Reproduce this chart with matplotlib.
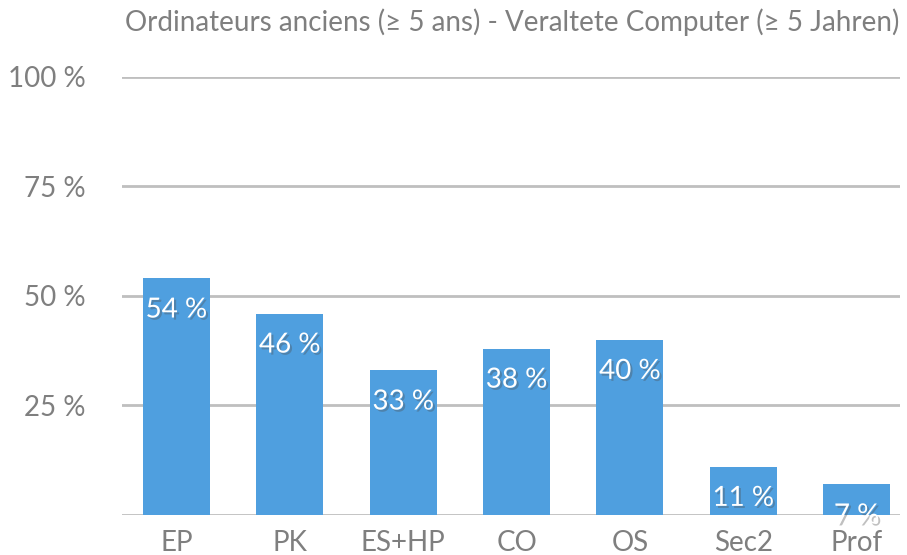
import matplotlib.pyplot as plt
import matplotlib.patheffects as pe

categories = ['EP', 'PK', 'ES+HP', 'CO', 'OS', 'Sec2', 'Prof']
values = [54, 46, 33, 38, 40, 11, 7]
yticks = [25, 50, 75, 100]
ytick_labels = ['25 %', '50 %', '75 %', '100 %']

plt.rcParams['font.family'] = ['Lato', 'DejaVu Sans']

fig = plt.figure(figsize=(9.07, 5.55), dpi=100)
ax = fig.add_axes([0.1345, 0.0721, 0.8575, 0.7892])

x = range(len(categories))
ax.bar(x, values, width=0.59, color='#4f9fdf', zorder=3)

for i, v in zip(x, values):
    ax.annotate(f'{v} %', (i, v), xytext=(0, -13), textcoords='offset points',
                ha='center', va='top', color='white', fontsize=20, zorder=4,
                path_effects=[pe.withSimplePatchShadow(offset=(1.5, -1.5), alpha=0.35)])

ax.set_xlim(-0.48, 6.38)
ax.set_ylim(0, 100)
ax.set_yticks(yticks)
ax.set_yticklabels(ytick_labels)
ax.set_xticks(list(x))
ax.set_xticklabels(categories)
ax.yaxis.grid(True, color='#bfbfbf', linewidth=2, zorder=0)
ax.axhline(0, color='#bfbfbf', linewidth=2, zorder=2)
for s in ax.spines.values():
    s.set_visible(False)
ax.tick_params(length=0, labelsize=20, labelcolor='#7f7f7f')
ax.tick_params(axis='y', pad=26)
ax.tick_params(axis='x', pad=11)

fig.text(0.992, 0.96, 'Ordinateurs anciens (≥ 5 ans) - Veraltete Computer (≥ 5 Jahren)',
         ha='right', va='center', fontsize=20, color='#7f7f7f')

fig.savefig('out.png', dpi=100)
